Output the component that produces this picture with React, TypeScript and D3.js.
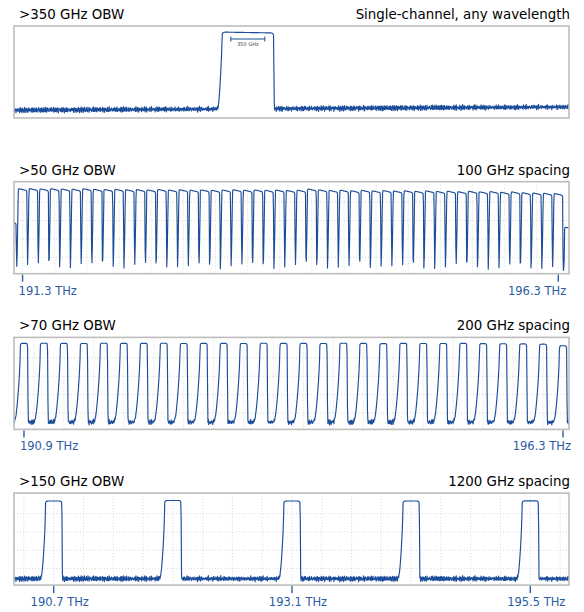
import React, { useEffect, useRef } from 'react';
import * as d3 from 'd3';

// panel headings
const leftTitles = ['>350 GHz OBW', '>50 GHz OBW', '>70 GHz OBW', '>150 GHz OBW'];
const rightTitles = ['Single-channel, any wavelength', '100 GHz spacing', '200 GHz spacing', '1200 GHz spacing'];

// frequency span shown in each panel (THz)
const spans: [number, number][] = [
  [190.69, 196.41],
  [191.22, 196.40],
  [190.80, 196.36],
  [190.30, 195.89],
];

// labelled ticks (THz)
const ticks: number[][] = [[], [191.3, 196.3], [190.9, 196.3], [190.7, 193.1, 195.5]];

// channel centres (THz)
const centers1 = [193.1];
const centers2 = [
  191.2, 191.3, 191.4, 191.5, 191.6, 191.7, 191.8, 191.9, 192.0, 192.1, 192.2, 192.3, 192.4, 192.5,
  192.6, 192.7, 192.8, 192.9, 193.0, 193.1, 193.2, 193.3, 193.4, 193.5, 193.6, 193.7, 193.8, 193.9,
  194.0, 194.1, 194.2, 194.3, 194.4, 194.5, 194.6, 194.7, 194.8, 194.9, 195.0, 195.1, 195.2, 195.3,
  195.4, 195.5, 195.6, 195.7, 195.8, 195.9, 196.0, 196.1, 196.2, 196.3, 196.4,
];
const centers3 = [
  190.9, 191.1, 191.3, 191.5, 191.7, 191.9, 192.1, 192.3, 192.5, 192.7, 192.9, 193.1, 193.3, 193.5,
  193.7, 193.9, 194.1, 194.3, 194.5, 194.7, 194.9, 195.1, 195.3, 195.5, 195.7, 195.9, 196.1, 196.3,
];
const centers4 = [190.7, 191.9, 193.1, 194.3, 195.5];

// channel top levels (dB, relative)
const levels1 = [0.7];
const levels2 = [
  -23,
  0.2, 0.3, 0.1, 0.2, 0.0, -0.1, 0.2, -0.2, -0.3, -0.2,
  -0.5, -0.4, -0.6, -0.3, -0.7, -0.5, -0.8, -0.6, -0.9, -0.7,
  -0.5, -0.8, -0.6, -0.9, -0.7, -1.0, -0.8, 0.0, -0.6, -1.0,
  -0.8, -1.2, -0.9, -1.3, -1.1, -1.4, -1.2, -1.6, -1.3, -1.7,
  -1.5, -1.9, -1.6, -2.0, -1.8, -2.3, -2.0, -2.6, -2.8, -3.0, -3.2,
  -27,
];
const levels3 = [
  0.8, 0.9, 0.8, 0.7, 0.9, 0.8, 0.8, 0.9, 0.7, 0.8, 0.8, 0.7, 0.9, 0.8,
  0.8, 0.7, 0.9, 0.8, 0.6, 0.8, 0.7, 0.7, 0.8, 0.6, 0.5, 0.4, 0.2, -0.9,
];
const levels4 = [-0.6, -0.2, -0.6, -0.6, -0.5];

// occupied width of each channel (THz)
const widths = [0.53, 0.082, 0.072, 0.165];

// noise floor (dB) and its drift (dB/THz)
const floorDb = [-54.5, -57.5, -55, -55.5];
const floorDrift = [0.4, 0, 0, 0];

// measured floor ripple (dB)
const rippleA = [
  0.4, -0.9, 1.2, -0.3, 0.8, -1.4, 0.1, 0.9, -0.6, 1.5, -1.1, 0.3, -0.2, 1.0, -1.3, 0.6, -0.8, 1.3,
  -0.4, 0.2, -1.5, 0.7, 1.1, -0.7, 0.0, -1.0, 1.4, -0.5, 0.5, -1.2, 0.9, -0.1, 1.2, -0.9, 0.3, -1.4,
  0.6, 1.0, -0.3, -0.8, 1.5, -0.6, 0.2, -1.1, 0.8, -0.2, 1.3, -1.3, 0.4, -0.5, 1.1, -1.0, 0.1,
];
const rippleB = [
  0.6, -0.3, -1.0, 0.9, 0.2, -0.7, 1.1, -0.4, 0.3, -1.2, 0.7, 0.0, -0.6, 1.0, -0.9, 0.4, -0.2, 0.8,
  -1.1, 0.5, -0.5, 1.2, -0.8, 0.1, 0.6, -1.3, 0.9, -0.1, 0.3, -0.7, 1.0,
];

// OBW marker in the single-channel panel
const obwCenter = 193.1;
const obwWidth = 0.35;
const obwLabel = '350 GHz';

const centers = [centers1, centers2, centers3, centers4];
const levels = [levels1, levels2, levels3, levels4];

interface EdgeStyle { rise: number; pow: number; fall: number; tilt: number; round: number; k: number; }

// filter edge shapes per panel
const edges: EdgeStyle[] = [
  { rise: 0.04, pow: 0.7, fall: 0.008, tilt: -0.6, round: 1.5, k: 0.008 },
  { rise: 0.012, pow: 0.8, fall: 0.004, tilt: -1.5, round: 1.2, k: 0.003 },
  { rise: 0.05, pow: 0.6, fall: 0.006, tilt: 0, round: 1.5, k: 0.004 },
  { rise: 0.04, pow: 0.6, fall: 0.005, tilt: 0, round: 1.5, k: 0.006 },
];

const channelDb = (f: number, c: number, w: number, L: number, s: EdgeStyle) => {
  const left = c - w / 2;
  const right = c + w / 2;
  if (f < left) return L - s.round - 55 * Math.pow((left - f) / s.rise, s.pow);
  if (f > right) return L - s.round - 55 * ((f - right) / s.fall);
  return L + s.tilt * ((f - left) / w) - s.round * (Math.exp(-(f - left) / s.k) + Math.exp(-(right - f) / s.k));
};

const lineColor = '#1b4d9a';
const labelColor = '#2b5ca3';

const App: React.FC = () => {
  const ref = useRef<SVGSVGElement>(null);

  useEffect(() => {
    const svg = d3.select(ref.current);
    svg.selectAll('*').remove();

    const boxLeft = 14;
    const boxRight = 569;
    const boxH = 92;
    const firstTop = 26;
    const pitch = 155.7;
    const font = '"DejaVu Sans", sans-serif';

    leftTitles.forEach((title, i) => {
      const top = firstTop + i * pitch;
      const bottom = top + boxH;
      const x = d3.scaleLinear().domain(spans[i]).range([boxLeft, boxRight]);
      const y = d3.scaleLinear().domain([-60, 5]).range([bottom, top]);
      const g = svg.append('g');

      // headings
      g.append('text')
        .attr('x', boxLeft + 5).attr('y', top - 7)
        .attr('font-family', font).attr('font-size', 13.4).attr('fill', '#000')
        .text(title);
      g.append('text')
        .attr('x', boxRight + 1).attr('y', top - 7)
        .attr('text-anchor', 'end')
        .attr('font-family', font).attr('font-size', 13.4).attr('fill', '#000')
        .text(rightTitles[i]);

      // dotted grid
      if (i > 0) {
        d3.range(1, 5).forEach(k => {
          g.append('line')
            .attr('x1', boxLeft).attr('x2', boxRight)
            .attr('y1', top + 2 + (k * boxH) / 5).attr('y2', top + 2 + (k * boxH) / 5)
            .attr('stroke', '#cfcfcf').attr('stroke-width', 0.8).attr('stroke-dasharray', '1,2');
        });
        d3.range(190.1, spans[i][1], 0.3)
          .filter(f => f > spans[i][0] + 0.02)
          .forEach(f => {
            g.append('line')
              .attr('x1', x(f)).attr('x2', x(f))
              .attr('y1', top).attr('y2', bottom)
              .attr('stroke', '#cfcfcf').attr('stroke-width', 0.8).attr('stroke-dasharray', '1,2');
          });
      }

      // trace
      const clipId = `clip${i}`;
      svg.append('clipPath').attr('id', clipId)
        .append('rect').attr('x', boxLeft).attr('y', top).attr('width', boxRight - boxLeft).attr('height', boxH);

      const n = Math.round((boxRight - boxLeft) * 2.5);
      const s = edges[i];
      const pts: [number, number][] = d3.range(n + 1).map(k => {
        const f = spans[i][0] + ((spans[i][1] - spans[i][0]) * k) / n;
        const floor = floorDb[i] + floorDrift[i] * (f - spans[i][0])
          + 1.05 * (rippleA[k % rippleA.length] + 0.5 * rippleB[k % rippleB.length]);
        let lin = Math.pow(10, floor / 10);
        centers[i].forEach((c, j) => {
          lin += Math.pow(10, channelDb(f, c, widths[i], levels[i][j], s) / 10);
        });
        return [x(f), y(10 * Math.log10(lin))];
      });

      g.append('path')
        .attr('clip-path', `url(#${clipId})`)
        .attr('d', d3.line()(pts) || '')
        .attr('fill', 'none')
        .attr('stroke', lineColor)
        .attr('stroke-width', 1.15)
        .attr('stroke-linejoin', 'round');

      // frame
      g.append('rect')
        .attr('x', boxLeft).attr('y', top)
        .attr('width', boxRight - boxLeft).attr('height', boxH)
        .attr('fill', 'none').attr('stroke', '#bdbdbd').attr('stroke-width', 1.6);

      // ticks and labels
      ticks[i].forEach((t, j) => {
        g.append('line')
          .attr('x1', x(t)).attr('x2', x(t))
          .attr('y1', bottom + 1).attr('y2', bottom + 8)
          .attr('stroke', labelColor).attr('stroke-width', 1.4);
        const last = j === ticks[i].length - 1;
        const anchor = ticks[i].length === 2 ? (last ? 'end' : 'start') : 'middle';
        const dx = ticks[i].length === 2 ? (last ? 8 : -4) : 6;
        g.append('text')
          .attr('x', x(t) + dx).attr('y', bottom + 21)
          .attr('text-anchor', anchor)
          .attr('font-family', font).attr('font-size', 11.5).attr('fill', labelColor)
          .text(`${t.toFixed(1)} THz`);
      });

      // OBW marker
      if (i === 0) {
        const x0 = x(obwCenter - obwWidth / 2);
        const x1 = x(obwCenter + obwWidth / 2);
        const yy = top + 13;
        g.append('line').attr('x1', x0).attr('x2', x1).attr('y1', yy).attr('y2', yy)
          .attr('stroke', lineColor).attr('stroke-width', 1);
        [x0, x1].forEach(xx => {
          g.append('line').attr('x1', xx).attr('x2', xx).attr('y1', yy - 2.5).attr('y2', yy + 2.5)
            .attr('stroke', lineColor).attr('stroke-width', 1);
        });
        g.append('text')
          .attr('x', (x0 + x1) / 2).attr('y', yy + 7)
          .attr('text-anchor', 'middle')
          .attr('font-family', font).attr('font-size', 5).attr('fill', '#444')
          .text(obwLabel);
      }
    });
  }, []);

  return (
    <svg
      ref={ref}
      width={584}
      height={612}
      style={{ position: 'absolute', left: 0, top: 0, background: '#fff', display: 'block' }}
    />
  );
};

export default App;
